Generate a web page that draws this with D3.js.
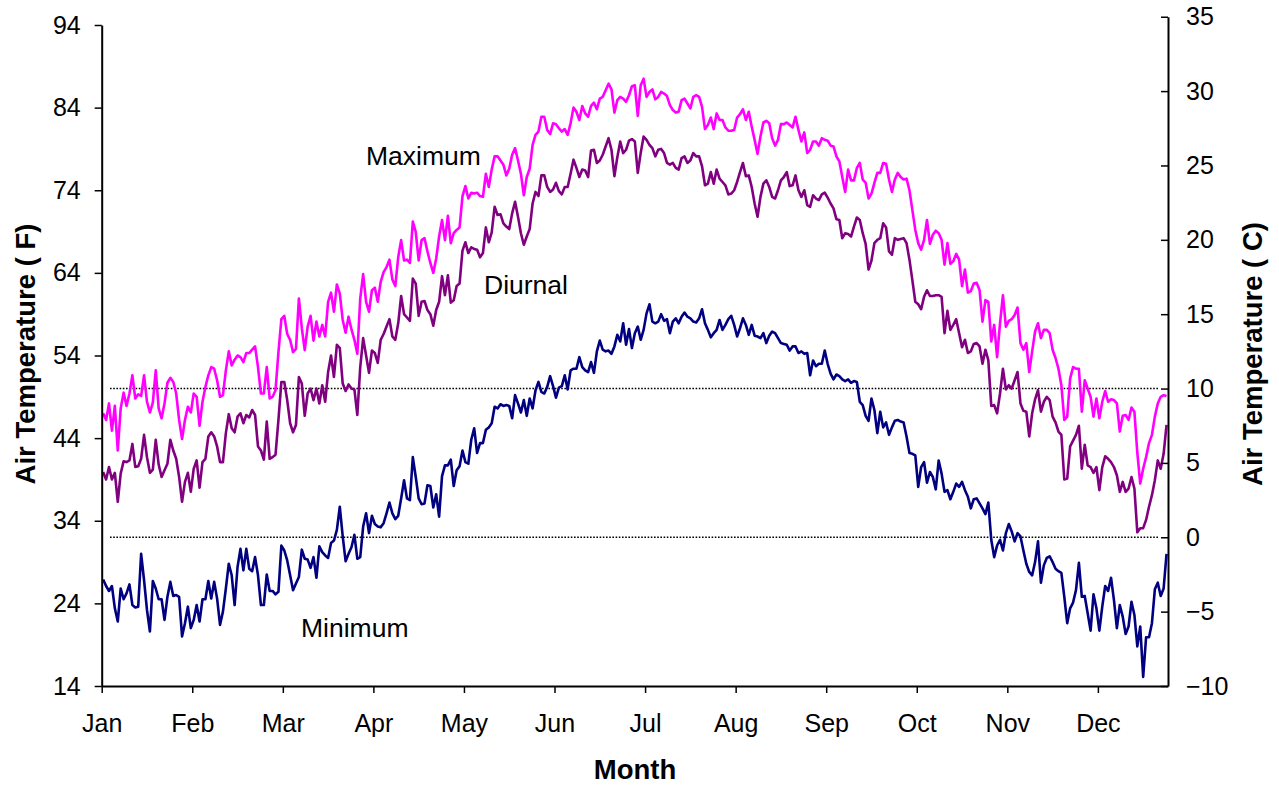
<!DOCTYPE html>
<html><head><meta charset="utf-8">
<script src="https://cdn.jsdelivr.net/npm/d3@7/dist/d3.min.js"></script>
<style>
html,body{margin:0;padding:0;background:#fff;}
svg text{font-family:"Liberation Sans",Arial,sans-serif;fill:#000;}
</style></head>
<body><svg id="chart" width="1279" height="788"></svg>
<script>
// ---- data (daily air temperature, °F, day 0 = Jan 1) ----
const months = ["Jan","Feb","Mar","Apr","May","Jun","Jul","Aug","Sep","Oct","Nov","Dec"];
const leftTicks = [14,24,34,44,54,64,74,84,94];
const rightTicks = [-10,-5,0,5,10,15,20,25,30,35];
const refLinesC = [10,0];
const seriesNames = ["Maximum","Diurnal","Minimum"];

const maxF = [
47.0,46.2,48.2,44.9,47.9,42.5,47.6,49.5,47.9,49.4,51.6,48.8,49.3,49.1,51.6,48.4,47.1,48.3,52.2,47.6,
46.4,48.2,50.7,51.3,50.8,49.4,46.2,43.9,46.2,47.8,47.1,49.4,49.0,45.5,48.4,50.2,51.6,52.6,52.4,51.0,
49.0,49.2,52.2,54.5,52.8,53.5,54.0,53.8,53.2,54.3,54.3,54.7,55.1,52.6,49.4,49.4,52.6,48.8,49.0,49.8,
54.4,58.4,
58.8,56.6,55.9,54.4,54.8,60.9,57.3,54.65,57.5,58.8,55.8,58.1,56.3,57.7,56.3,60.5,61.6,59.3,62.6,61.5,
58.3,56.75,58.7,57.15,55.9,54.2,60.9,63.85,60.5,59.3,61.9,62.2,60.5,62.9,64.1,64.7,65.6,63.2,62.4,65.9,
67.96,65.5,65.6,65.2,70.2,68.97,65.5,67.96,68.2,66.6,65.2,64.0,65.75,68.4,70.4,67.96,70.9,67.6,68.8,69.2,
69.5,73.3,
74.5,73.0,73.7,73.6,73.7,73.3,73.2,76.0,74.4,76.5,78.1,78.1,77.6,77.1,75.8,76.6,78.3,79.1,77.6,76.0,
73.4,75.6,76.6,79.5,80.7,81.1,82.9,82.9,81.3,80.8,82.1,82.0,81.5,81.1,81.4,80.7,82.1,84.0,83.5,82.5,
84.2,83.3,82.9,84.2,84.6,83.8,85.1,85.3,86.1,86.9,86.2,83.4,84.9,85.3,85.1,84.7,85.5,86.6,86.7,83.0,
86.7,87.5,
85.3,85.9,86.2,85.0,85.3,85.9,85.7,85.4,84.3,83.7,83.4,83.5,84.9,85.1,84.5,83.9,85.3,85.5,85.3,84.1,
81.4,81.9,82.8,81.4,83.3,82.5,82.5,81.6,81.2,81.2,81.3,82.8,83.2,83.8,82.5,83.5,81.7,80.1,78.4,80.5,
82.2,82.4,82.1,80.3,79.4,80.1,82.0,82.0,82.2,81.9,81.6,82.9,81.3,79.9,81.0,78.5,78.9,79.9,79.9,79.4,
80.3,80.1,
80.0,79.4,79.3,78.1,77.5,75.6,73.8,76.5,75.2,75.2,76.7,77.3,75.3,74.9,73.0,73.6,74.9,76.1,76.1,77.3,
77.2,75.3,73.8,75.3,76.1,75.6,75.3,75.4,74.0,71.6,69.2,67.6,66.8,68.0,70.4,67.5,68.6,69.1,68.8,68.0,
65.0,67.6,65.1,65.4,66.3,65.6,62.4,64.4,61.6,61.8,62.7,62.8,61.9,58.1,60.7,60.5,55.7,57.7,53.8,57.9,
61.3,
57.5,58.2,58.4,58.9,59.8,55.5,54.7,55.5,52.0,54.5,56.9,57.9,56.1,57.1,57.1,56.7,54.7,53.7,52.4,50.4,
46.2,46.6,51.2,52.6,52.4,52.4,47.2,51.0,50.0,49.0,46.6,48.8,46.4,48.4,49.7,48.4,48.7,48.6,48.2,44.8,
46.7,46.8,46.2,47.7,47.2,42.2,38.5,40.3,41.7,43.4,44.4,46.6,48.2,49.0,49.2,49.1
];

const diurnalF = [
39.9,39.0,40.5,39.0,39.8,36.3,39.7,41.2,41.1,41.3,43.3,40.5,40.6,41.5,44.4,41.7,39.8,40.2,43.8,40.8,
39.3,40.1,40.9,43.8,42.5,41.5,39.3,36.3,38.7,39.8,37.5,40.3,41.3,38.0,41.1,41.5,44.2,44.7,44.2,43.0,
41.1,41.1,44.6,46.9,45.2,44.7,46.6,47.0,45.8,46.8,46.5,47.4,46.8,43.0,42.5,41.4,46.0,41.5,41.7,42.0,
46.2,50.8,
50.8,48.6,45.8,44.7,45.6,51.4,50.6,46.7,49.4,50.0,48.6,50.0,48.2,50.4,48.4,52.0,54.0,51.4,55.3,54.9,
50.6,49.7,50.5,50.0,49.9,46.8,52.6,56.1,54.0,51.9,54.6,54.3,53.1,55.9,56.6,57.5,58.4,56.3,55.9,57.9,
61.2,59.0,58.6,58.2,63.3,62.7,58.8,60.5,60.6,59.5,59.0,57.6,59.5,60.5,63.6,61.3,63.7,60.4,60.7,62.4,
62.7,66.7,
67.7,66.4,67.1,66.9,66.8,65.9,66.4,69.5,67.7,68.9,72.0,71.0,71.1,70.0,69.6,69.3,71.2,72.6,70.8,68.8,
67.4,68.4,69.3,72.4,73.8,73.3,75.8,75.8,74.4,73.8,74.1,74.9,73.9,73.5,74.4,74.4,76.0,77.7,76.7,75.6,
76.5,76.4,75.6,78.8,78.9,77.3,77.6,78.3,79.3,80.3,78.9,75.7,78.0,79.9,78.5,78.9,80.0,80.2,79.9,76.1,
78.5,80.5,
80.1,79.5,79.1,78.1,78.9,79.0,78.5,77.3,77.1,77.3,76.7,76.5,77.9,78.1,77.3,77.6,78.5,78.1,78.1,76.9,
74.6,74.8,76.2,74.8,76.5,75.4,75.0,74.6,73.5,73.6,74.0,75.0,76.2,77.3,75.7,75.8,74.4,72.4,70.8,73.2,
74.8,75.2,74.4,73.2,73.0,74.0,75.2,75.6,76.2,74.5,74.6,75.8,74.0,73.2,74.0,72.2,72.0,73.4,73.0,72.8,
73.5,73.7,
73.1,72.4,71.8,70.5,70.4,68.2,68.8,68.7,68.4,69.6,70.7,70.4,68.8,67.5,64.4,65.5,67.6,68.0,68.2,70.0,
69.5,66.6,66.2,68.2,68.0,68.1,68.2,67.6,65.6,63.1,60.5,60.2,59.6,61.1,61.9,61.2,61.2,61.3,61.3,61.1,
56.7,59.4,57.1,57.7,58.4,56.7,55.0,55.9,54.3,54.5,55.4,55.5,55.1,53.0,54.7,53.4,47.9,48.0,47.0,49.4,
52.4,
49.9,50.4,50.0,51.0,52.0,48.2,47.3,47.2,44.2,47.0,48.7,49.8,47.2,48.4,49.0,48.6,46.6,45.9,44.8,44.4,
39.0,39.1,43.0,43.7,44.4,45.5,40.3,43.2,40.7,40.5,39.8,40.5,37.7,40.5,41.8,41.5,41.1,40.5,39.5,37.5,
38.7,37.5,37.9,39.3,37.9,32.6,33.1,33.1,34.1,35.7,37.1,38.9,41.3,40.3,42.1,45.6
];

const minF = [
26.9,26.1,25.5,26.1,23.4,21.8,25.8,24.5,25.2,26.3,23.8,23.5,23.6,30.0,26.8,23.2,20.6,26.7,25.8,24.5,
24.5,22.0,24.8,26.6,24.9,25.0,24.8,20.0,21.6,23.6,21.0,22.0,23.8,21.8,24.5,24.5,26.7,24.6,26.6,24.6,
21.4,23.0,25.8,28.8,27.4,23.8,28.4,30.6,28.0,30.6,28.2,27.9,29.6,27.4,23.8,23.8,27.5,25.5,25.5,25.1,
25.4,31.0,
30.4,29.2,27.4,25.6,26.4,27.2,30.5,29.4,29.3,28.3,29.6,27.1,30.9,30.2,29.8,29.5,31.3,31.6,32.9,35.7,
32.1,29.1,30.0,30.8,32.3,29.4,29.6,33.3,34.9,32.5,34.6,33.6,33.3,33.2,33.7,34.9,36.2,34.9,34.2,34.6,
36.7,38.9,36.7,36.5,41.7,39.3,36.7,36.0,36.1,38.3,38.2,35.6,37.2,34.5,39.4,40.7,40.7,41.4,38.2,40.1,
40.6,42.5,
41.1,40.9,43.8,45.2,42.2,43.4,43.4,45.0,45.3,45.8,47.8,47.6,48.1,47.9,48.0,47.9,46.4,49.2,48.2,47.1,
48.6,46.7,48.8,47.6,49.8,50.8,49.6,49.4,50.2,51.5,50.3,48.9,50.1,50.3,51.6,49.9,52.2,52.4,52.4,53.8,
52.6,52.2,52.0,53.2,51.9,54.5,55.8,54.7,54.5,54.6,54.2,55.1,56.5,55.7,57.9,55.3,57.2,54.9,56.7,57.5,
55.9,57.1,
59.1,60.2,58.1,57.9,58.1,59.0,58.2,58.4,56.7,58.1,58.5,57.9,58.7,59.2,58.7,58.5,58.1,58.0,58.5,59.6,
57.9,57.1,56.2,56.7,57.1,58.3,57.1,57.7,58.4,58.8,57.7,56.3,57.3,58.5,57.7,56.5,57.7,56.4,56.3,56.1,
56.7,55.5,56.4,56.9,56.7,56.1,55.5,55.4,55.3,54.6,55.1,55.1,54.3,54.5,54.2,54.3,51.6,53.4,52.7,53.0,
53.0,54.6,
53.0,51.8,51.1,51.7,51.5,51.1,50.9,51.1,50.7,50.9,50.8,48.4,48.0,46.7,46.1,48.8,47.4,44.6,47.2,45.3,
45.9,44.4,45.3,46.1,46.2,46.0,45.9,44.2,42.2,42.1,41.9,38.1,40.5,41.1,38.6,39.9,39.3,37.8,41.3,39.7,
37.5,37.7,36.6,37.5,38.5,38.1,38.7,37.7,36.9,35.5,36.6,36.7,36.1,35.5,34.8,36.2,31.7,29.6,31.0,31.7,
30.4,
32.5,33.6,32.7,31.5,32.5,32.1,30.4,28.8,27.8,27.4,29.0,31.5,26.5,28.6,29.5,29.7,29.0,28.2,27.9,27.7,
24.8,21.6,23.4,24.1,25.6,28.9,24.8,24.9,22.8,20.7,25.1,23.4,20.7,23.6,26.1,25.5,27.1,24.4,21.0,23.8,
22.4,20.3,21.2,24.2,22.6,18.8,21.2,15.1,19.9,19.9,21.6,25.7,26.5,24.9,25.8,30.0
];

// ---- layout ----
const svg = d3.select("#chart");
const L = 101.7, R = 1168, T = 25, B = 686;
const nDays = 365;
const x = d3.scaleLinear().domain([0, nDays]).range([L, R]);
const yF = d3.scaleLinear().domain([14, 94]).range([B, T]);
const yC = d3.scaleLinear().domain([-10, 35]).range([B, yF(95)]);
const cToF = c => c * 9 / 5 + 32;

// reference dotted lines at 10 C and 0 C
svg.append("g").selectAll("line").data(refLinesC).join("line")
  .attr("x1", 110).attr("x2", 1158)
  .attr("y1", d => yF(cToF(d))).attr("y2", d => yF(cToF(d)))
  .attr("stroke", "#000").attr("stroke-width", 1.6).attr("stroke-dasharray", "1.6,1.6");

// series lines
const line = d3.line().x((d, i) => x(i + 0.5)).y(d => yF(d));
const series = [
  {name: "Maximum", values: maxF, color: "#FF00FF"},
  {name: "Diurnal", values: diurnalF, color: "#800080"},
  {name: "Minimum", values: minF, color: "#000080"}
];
svg.append("g").selectAll("path").data(series).join("path")
  .attr("d", d => line(d.values))
  .attr("fill", "none").attr("stroke", d => d.color)
  .attr("stroke-width", 2.6).attr("stroke-linejoin", "round");

// axes
const fontTick = "25px";
const gl = svg.append("g").attr("transform", `translate(${L},0)`)
  .call(d3.axisLeft(yF).tickValues(leftTicks).tickSize(7).tickSizeOuter(0).tickPadding(14));
const gr = svg.append("g").attr("transform", `translate(${R},0)`)
  .call(d3.axisRight(yC).tickValues(rightTicks).tickSize(-7).tickSizeOuter(0).tickPadding(18));
const monthDays = months.map((m, i) => i * 31);
const gb = svg.append("g").attr("transform", `translate(0,${B})`)
  .call(d3.axisBottom(x).tickValues(monthDays).tickSize(7).tickSizeOuter(0)
    .tickFormat((d, i) => months[i]));
[gl, gr, gb].forEach(g => {
  g.selectAll("path.domain").attr("stroke", "#000").attr("stroke-width", 2);
  g.selectAll(".tick line").attr("stroke", "#000").attr("stroke-width", 1.5);
  g.selectAll("text").style("font-size", fontTick).style("font-family", '"Liberation Sans",Arial,sans-serif').attr("fill", "#000");
});
gb.selectAll(".tick text").attr("y", 46).attr("dy", null);

// axis titles
svg.append("text").attr("transform", "translate(35,354) rotate(-90)")
  .attr("text-anchor", "middle").style("font-size", "27.5px").style("font-weight", "bold")
  .text("Air Temperature ( F)");
svg.append("text").attr("transform", "translate(1262,354) rotate(-90)")
  .attr("text-anchor", "middle").style("font-size", "27.5px").style("font-weight", "bold")
  .text("Air Temperature ( C)");
svg.append("text").attr("x", 635).attr("y", 779)
  .attr("text-anchor", "middle").style("font-size", "27.5px").style("font-weight", "bold")
  .text("Month");

// series labels
const labelPos = [[366, 165], [484, 294], [301, 637]];
svg.append("g").selectAll("text").data(seriesNames).join("text")
  .attr("x", (d, i) => labelPos[i][0]).attr("y", (d, i) => labelPos[i][1])
  .style("font-size", "26.5px").text(d => d);
</script></body></html>
